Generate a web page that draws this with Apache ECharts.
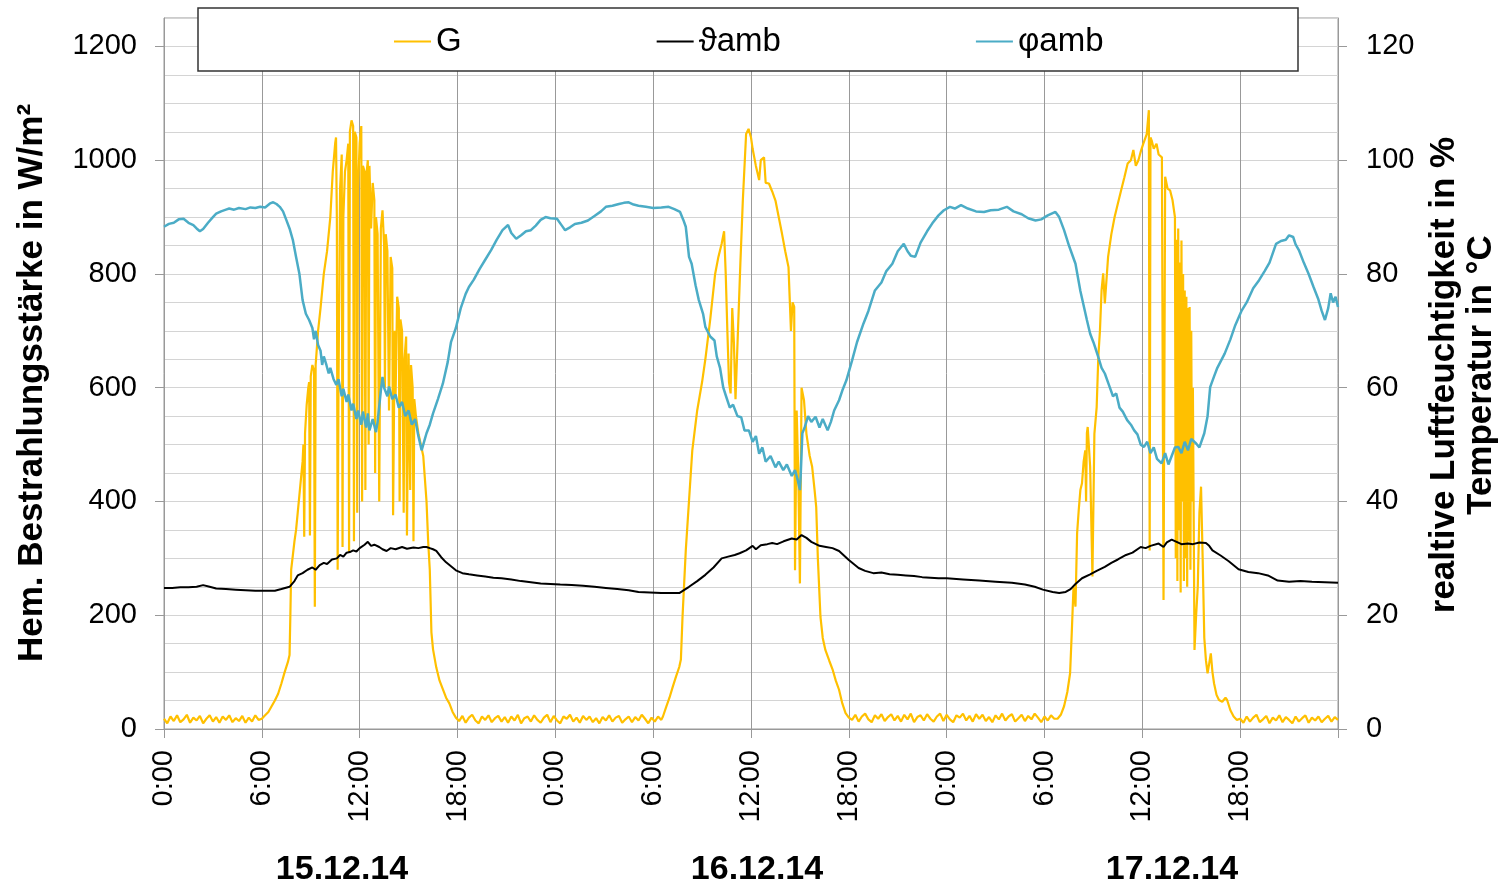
<!DOCTYPE html>
<html>
<head>
<meta charset="utf-8">
<script src="https://cdn.jsdelivr.net/npm/echarts@6/dist/echarts.min.js"></script>
<style>
html,body{margin:0;padding:0;background:#fff;}
#chart{width:1506px;height:890px;}
</style>
</head>
<body>
<div id="chart"></div>
<script>
// ---- x axis (hours since 15.12.14 0:00) ----
const xTicks = [0, 6, 12, 18, 24, 30, 36, 42, 48, 54, 60, 66, 72];
const dateLabels = ['15.12.14', '16.12.14', '17.12.14'];
const leftTicks = [0, 200, 400, 600, 800, 1000, 1200];
const rightTicks = [0, 20, 40, 60, 80, 100, 120];
const seriesNames = ['G', 'ϑamb', 'φamb'];

// ---- G (W/m²): night noise at 0.2 h steps ----
const gNight1 = [18,10,22,14,24,12,17,25,11,20,15,23,10,18,24,13,21,11,22,16,24,12,19,14,23,11,20,13,24,16];
const gNight2 = [14,23,11,20,25,15,10,22,16,24,12,19,23,13,21,11,22,15,25,10,19,22,13,24,16,11,20,25,12,23,15,10,22,18,25,13,20,11,23,16,22,12,19,10,21,15,24,13,20,23,11,17,22,12,21,15,25,18,10,20,13,22,16];
const gNight3 = [16,25,13,22,27,17,12,24,18,26,14,21,26,15,23,13,25,17,27,12,21,24,15,26,18,13,22,27,14,25,17,12,24,20,27,15,23,13,26,18,25,14,21,12,24,17,27,15,22,26,13,19,25,14,23,17,27,20,12,22,15,24,18];
const gNight4 = [18,11,22,13,20,25,12,17,23,10,20,15,24,12,21,16,10,22,13,19,24,11,20,15,22,12,18,23,13,21,16];

// ---- G (W/m²): daytime [hour, value] ----
const gDay1 = [[6.0,18],[6.2,24],[6.4,30],[6.6,40],[6.8,50],[7.0,62],[7.2,80],[7.4,100],[7.6,118],[7.7,130],[7.75,200],[7.8,280],[7.9,305],[8.0,330],[8.1,350],[8.2,380],[8.3,410],[8.4,440],[8.5,470],[8.55,500],[8.6,338],[8.65,520],[8.75,570],[8.85,600],[8.9,610],[8.95,340],[9.0,620],[9.1,640],[9.2,630],[9.25,215],[9.3,640],[9.45,700],[9.6,740],[9.8,800],[10.0,840],[10.2,900],[10.35,980],[10.5,1030],[10.55,1040],[10.6,900],[10.65,280],[10.7,600],[10.8,950],[10.9,1010],[10.95,320],[11.0,900],[11.1,980],[11.2,1000],[11.3,1029],[11.35,310],[11.4,1050],[11.5,1070],[11.6,1060],[11.65,330],[11.7,1050],[11.8,1040],[11.85,380],[11.9,950],[12.0,1030],[12.1,1060],[12.15,400],[12.2,990],[12.3,980],[12.35,420],[12.4,970],[12.5,1000],[12.55,500],[12.6,990],[12.7,880],[12.8,960],[12.9,930],[12.95,450],[13.0,900],[13.1,870],[13.2,400],[13.3,880],[13.4,912],[13.5,850],[13.55,600],[13.6,870],[13.7,840],[13.8,560],[13.9,830],[14.0,810],[14.05,376],[14.15,700],[14.2,580],[14.3,760],[14.4,740],[14.45,400],[14.5,720],[14.6,700],[14.7,380],[14.75,650],[14.85,690],[14.9,340],[15.0,660],[15.1,420],[15.15,640],[15.25,600],[15.3,330],[15.35,580],[15.45,550],[15.6,520],[15.75,500],[15.9,480],[16.0,440],[16.1,400],[16.2,330],[16.3,280],[16.4,170],[16.5,140],[16.7,108],[16.9,85],[17.1,70],[17.3,55],[17.5,45],[17.7,30],[17.9,20]];
const gDay2 = [[30.6,22],[30.8,39],[31.0,55],[31.2,74],[31.4,92],[31.6,109],[31.7,122],[31.8,197],[32.0,314],[32.2,402],[32.4,490],[32.7,560],[33.0,610],[33.2,650],[33.5,720],[33.8,800],[34.0,830],[34.2,853],[34.35,875],[34.45,800],[34.55,700],[34.65,610],[34.75,590],[34.85,740],[34.95,680],[35.05,580],[35.2,700],[35.35,820],[35.5,930],[35.7,1046],[35.85,1055],[36.0,1040],[36.1,1020],[36.3,990],[36.5,965],[36.6,1000],[36.8,1005],[36.9,960],[37.1,959],[37.3,945],[37.5,929],[37.7,900],[37.9,871],[38.1,840],[38.3,812],[38.45,700],[38.55,750],[38.65,742],[38.7,279],[38.8,560],[38.9,450],[39.0,256],[39.1,600],[39.25,578],[39.4,519],[39.6,480],[39.75,461],[39.9,420],[40.0,390],[40.1,300],[40.26,197],[40.4,160],[40.56,139],[40.8,120],[41.0,105],[41.2,85],[41.4,69],[41.6,45],[41.8,28],[42.0,20]];
const gDay3 = [[54.8,18],[55.0,25],[55.2,40],[55.4,65],[55.57,98],[55.67,168],[55.78,250],[55.9,215],[56.0,344],[56.1,385],[56.2,420],[56.3,432],[56.4,470],[56.5,490],[56.55,400],[56.6,520],[56.65,531],[56.8,461],[56.94,268],[57.06,519],[57.2,566],[57.3,654],[57.4,700],[57.5,771],[57.6,801],[57.7,748],[57.9,830],[58.1,870],[58.3,900],[58.5,924],[58.7,947],[58.9,970],[59.1,994],[59.3,1000],[59.45,1018],[59.6,990],[59.76,1000],[59.9,1015],[60.06,1029],[60.27,1046],[60.4,1088],[60.45,314],[60.5,1040],[60.57,1035],[60.7,1020],[60.87,1029],[61.0,1010],[61.2,1005],[61.3,227],[61.35,600],[61.4,971],[61.55,950],[61.7,947],[61.85,930],[62.0,900],[62.05,300],[62.1,860],[62.15,260],[62.2,880],[62.25,350],[62.3,820],[62.35,240],[62.4,859],[62.45,400],[62.5,800],[62.55,260],[62.6,771],[62.65,300],[62.7,760],[62.75,250],[62.8,740],[62.85,330],[62.9,742],[62.95,280],[63.0,700],[63.05,400],[63.1,600],[63.2,139],[63.3,200],[63.4,250],[63.5,380],[63.6,426],[63.7,300],[63.8,160],[63.9,121],[64.0,98],[64.1,115],[64.2,133],[64.3,100],[64.4,80],[64.55,60],[64.7,51],[64.9,48],[65.1,55],[65.2,51],[65.4,33],[65.6,22],[65.8,16]];

// ---- ϑamb (°C) [hour, value] ----
const tempData = [[0.0,24.8],[0.5,24.8],[1.0,24.9],[1.5,24.9],[2.0,25.0],[2.4,25.3],[2.8,25.0],[3.2,24.7],[3.8,24.6],[4.4,24.5],[5.0,24.4],[5.6,24.3],[6.2,24.3],[6.8,24.3],[7.2,24.6],[7.7,25.0],[8.0,26.0],[8.2,27.0],[8.5,27.4],[8.8,28.0],[9.1,28.4],[9.3,28.0],[9.55,28.8],[9.8,29.2],[10.0,29.0],[10.3,29.8],[10.6,30.0],[10.8,30.6],[11.0,30.3],[11.2,31.0],[11.4,31.1],[11.6,31.4],[11.8,31.2],[12.0,31.8],[12.3,32.4],[12.5,32.9],[12.7,32.2],[12.9,32.4],[13.2,32.0],[13.4,31.6],[13.65,31.3],[13.9,31.8],[14.2,31.6],[14.6,32.0],[14.9,31.7],[15.3,31.9],[15.6,31.8],[15.9,32.0],[16.1,32.0],[16.3,31.8],[16.5,31.6],[16.7,31.3],[17.0,30.2],[17.3,29.3],[17.6,28.6],[17.9,27.9],[18.3,27.4],[18.7,27.2],[19.2,27.0],[19.7,26.8],[20.2,26.6],[20.7,26.5],[21.3,26.3],[21.9,26.0],[22.5,25.8],[23.1,25.6],[23.7,25.5],[24.3,25.4],[25.0,25.3],[25.7,25.2],[26.4,25.0],[27.1,24.8],[27.8,24.6],[28.5,24.4],[29.1,24.1],[29.8,24.0],[30.5,23.9],[31.0,23.9],[31.6,23.9],[32.2,25.0],[32.7,26.0],[33.2,27.1],[33.7,28.4],[34.2,30.0],[34.6,30.3],[35.0,30.6],[35.3,30.9],[35.7,31.4],[36.1,32.2],[36.3,31.6],[36.6,32.3],[37.0,32.5],[37.3,32.7],[37.6,32.5],[38.0,33.0],[38.5,33.5],[38.8,33.3],[39.1,34.1],[39.4,33.6],[39.7,32.9],[40.2,32.2],[40.6,32.0],[41.0,31.8],[41.4,31.3],[41.7,30.5],[42.0,29.7],[42.3,29.0],[42.6,28.3],[43.0,27.8],[43.5,27.4],[44.0,27.5],[44.5,27.2],[45.0,27.1],[45.5,27.0],[46.0,26.9],[46.5,26.7],[47.0,26.6],[47.5,26.5],[48.0,26.5],[49.0,26.3],[50.0,26.1],[51.0,25.9],[52.0,25.7],[52.8,25.4],[53.4,25.0],[53.9,24.5],[54.5,24.1],[54.9,23.9],[55.3,24.1],[55.6,24.6],[55.9,25.5],[56.3,26.5],[56.8,27.2],[57.2,27.8],[57.7,28.5],[58.1,29.2],[58.5,29.8],[59.0,30.6],[59.4,31.0],[59.9,32.0],[60.2,31.8],[60.5,32.2],[61.0,32.6],[61.3,32.0],[61.5,32.8],[61.8,33.3],[62.1,32.9],[62.4,32.5],[62.8,32.6],[63.1,32.5],[63.5,32.8],[63.9,32.7],[64.1,32.2],[64.3,31.4],[64.8,30.5],[65.3,29.5],[65.9,28.1],[66.5,27.6],[67.1,27.4],[67.7,27.0],[68.3,26.1],[69.0,25.9],[69.7,26.0],[70.4,25.9],[71.2,25.8],[72.0,25.7]];

// ---- φamb (%) [hour, value] ----
const humData = [[0.0,88.3],[0.3,88.8],[0.6,89.0],[0.9,89.6],[1.2,89.7],[1.5,89.0],[1.8,88.6],[2.0,88.0],[2.2,87.5],[2.4,87.9],[2.7,89.0],[3.0,90.0],[3.2,90.6],[3.5,91.0],[3.8,91.3],[4.0,91.5],[4.3,91.3],[4.6,91.6],[5.0,91.4],[5.3,91.7],[5.6,91.6],[5.9,91.8],[6.2,91.7],[6.5,92.4],[6.7,92.6],[6.9,92.3],[7.1,91.8],[7.3,91.0],[7.5,89.5],[7.7,88.0],[7.9,86.0],[8.1,83.0],[8.3,80.1],[8.5,75.4],[8.7,73.0],[8.9,71.9],[9.1,70.5],[9.2,68.5],[9.3,70.0],[9.45,67.5],[9.6,66.5],[9.7,64.0],[9.8,65.5],[9.96,64.0],[10.1,62.5],[10.2,63.5],[10.4,61.5],[10.57,60.5],[10.7,61.5],[10.9,58.5],[11.0,59.8],[11.2,57.5],[11.3,58.8],[11.5,56.0],[11.6,57.2],[11.8,54.5],[11.9,56.0],[12.1,53.5],[12.2,55.8],[12.4,53.0],[12.5,55.5],[12.6,52.5],[12.8,54.5],[13.0,52.2],[13.1,54.0],[13.3,59.5],[13.4,61.9],[13.5,60.0],[13.7,58.5],[13.8,60.2],[14.0,58.0],[14.2,58.8],[14.4,56.5],[14.6,57.5],[14.8,55.0],[15.0,56.0],[15.2,53.5],[15.4,54.5],[15.6,51.5],[15.8,49.0],[16.0,51.0],[16.1,52.0],[16.3,53.5],[16.5,55.5],[16.8,58.0],[17.1,60.7],[17.4,64.5],[17.6,68.0],[17.9,70.5],[18.2,74.0],[18.5,76.5],[18.7,77.7],[19.0,79.0],[19.36,80.9],[19.7,82.5],[20.06,84.2],[20.4,86.0],[20.76,87.7],[21.1,88.6],[21.3,87.2],[21.6,86.2],[21.9,86.8],[22.2,87.5],[22.5,87.7],[22.8,88.5],[23.1,89.5],[23.4,90.0],[23.7,89.8],[24.1,89.7],[24.4,88.5],[24.6,87.7],[24.9,88.2],[25.2,88.8],[25.6,89.0],[26.0,89.4],[26.4,90.2],[26.8,91.0],[27.1,91.8],[27.5,92.0],[27.9,92.3],[28.2,92.5],[28.5,92.6],[28.8,92.2],[29.1,92.0],[29.55,91.8],[30.0,91.6],[30.5,91.7],[30.95,91.8],[31.3,91.4],[31.65,90.9],[31.85,89.5],[32.0,88.3],[32.2,83.0],[32.36,81.8],[32.6,78.0],[32.8,75.4],[33.06,73.0],[33.2,70.7],[33.5,69.0],[33.76,68.3],[33.9,65.5],[34.1,63.5],[34.3,60.0],[34.47,58.5],[34.7,56.5],[34.9,57.0],[35.17,55.0],[35.4,54.8],[35.6,52.5],[35.87,52.5],[36.1,50.5],[36.3,51.5],[36.5,48.4],[36.7,49.5],[36.9,47.0],[37.2,48.0],[37.5,46.0],[37.7,47.0],[37.98,45.5],[38.2,46.5],[38.5,44.5],[38.7,45.5],[38.87,43.7],[39.0,42.0],[39.04,44.0],[39.15,52.0],[39.3,53.1],[39.5,55.0],[39.7,54.0],[39.96,54.9],[40.2,53.0],[40.4,54.5],[40.7,52.5],[40.9,54.0],[41.1,56.0],[41.4,57.8],[41.6,59.5],[41.85,61.3],[42.2,64.8],[42.5,68.0],[42.9,71.3],[43.2,73.5],[43.6,77.1],[44.0,78.5],[44.3,80.5],[44.67,81.8],[45.0,84.0],[45.37,85.3],[45.6,84.0],[45.8,83.2],[46.07,83.0],[46.4,85.5],[46.8,87.5],[47.12,88.9],[47.5,90.3],[47.83,91.2],[48.2,91.8],[48.5,91.5],[48.88,92.1],[49.3,91.5],[49.8,91.0],[50.29,90.9],[50.7,91.2],[51.2,91.3],[51.69,91.8],[52.1,91.0],[52.6,90.5],[53.0,89.8],[53.45,89.4],[53.8,89.6],[54.2,90.3],[54.67,90.9],[54.9,90.0],[55.2,87.7],[55.5,85.0],[55.9,81.8],[56.2,77.0],[56.6,71.9],[56.8,69.5],[57.0,68.0],[57.3,65.4],[57.5,63.5],[57.7,62.5],[58.0,60.1],[58.2,58.5],[58.4,59.0],[58.6,56.5],[58.8,55.8],[59.07,54.3],[59.3,53.5],[59.5,52.5],[59.7,51.8],[59.9,50.0],[60.1,49.6],[60.3,50.5],[60.5,48.5],[60.7,49.5],[60.9,47.5],[61.18,46.7],[61.4,48.5],[61.6,46.5],[61.8,48.0],[62.0,49.5],[62.2,49.6],[62.4,48.5],[62.6,50.5],[62.8,49.0],[63.0,51.0],[63.3,50.2],[63.5,49.5],[63.8,52.0],[64.0,55.0],[64.16,60.1],[64.4,62.0],[64.6,63.5],[65.05,66.0],[65.4,68.5],[65.7,71.0],[66.1,73.6],[66.4,75.0],[66.8,77.5],[67.16,78.9],[67.5,80.5],[67.8,82.0],[68.2,85.3],[68.5,85.8],[68.8,86.0],[69.0,86.8],[69.25,86.5],[69.4,85.2],[69.6,84.2],[69.9,82.0],[70.2,80.0],[70.5,77.7],[70.8,75.5],[71.0,73.5],[71.2,71.9],[71.4,74.0],[71.55,76.6],[71.7,75.0],[71.85,76.0],[72.0,74.2]];

// build G series from night runs (start hour, 0.2 h step) and day pairs
function run(start, vals) {
  return vals.map((v, i) => [Math.round((start + i * 0.2) * 100) / 100, v]);
}
const gData = [].concat(
  run(0.0, gNight1), gDay1,
  run(18.1, gNight2), gDay2,
  run(42.2, gNight3), gDay3,
  run(66.0, gNight4)
);

const FONT = '"Liberation Sans", Arial, sans-serif';
const chart = echarts.init(document.getElementById('chart'), null, {renderer: 'canvas'});

chart.setOption({
  animation: false,
  backgroundColor: '#ffffff',
  textStyle: {fontFamily: FONT},
  grid: {left: 164, right: 168, top: 18, bottom: 161, show: true, borderColor: '#999', borderWidth: 1, backgroundColor: 'transparent'},
  legend: {
    data: seriesNames,
    left: 394, top: 25, padding: 0, z: 60,
    itemGap: 195, itemWidth: 37, itemHeight: 2, icon: 'rect',
    textStyle: {fontSize: 33, color: '#000', fontFamily: FONT, padding: [0, 0, 0, 0]}
  },
  xAxis: {
    type: 'value', min: 0, max: 72, interval: 6,
    axisLine: {show: true, lineStyle: {color: '#999', width: 1}},
    axisTick: {show: true, length: 9, lineStyle: {color: '#999'}},
    splitLine: {show: true, lineStyle: {color: '#999', width: 1}},
    axisLabel: {
      rotate: 90, fontSize: 29, color: '#000', margin: 21, fontFamily: FONT,
      customValues: xTicks.slice(0, 12),
      formatter: v => (v % 24) + ':00'
    }
  },
  yAxis: [
    {
      type: 'value', min: 0, max: 1250, interval: 200, position: 'left',
      axisLine: {show: true, lineStyle: {color: '#999'}},
      axisTick: {show: true, length: 9, customValues: leftTicks, lineStyle: {color: '#999'}},
      axisLabel: {customValues: leftTicks, fontSize: 29, color: '#000', margin: 27, fontFamily: FONT,
                  formatter: v => String(v)},
      splitLine: {show: false}
    },
    {
      type: 'value', min: 0, max: 125, interval: 20, position: 'right',
      axisLine: {show: true, lineStyle: {color: '#999'}},
      axisTick: {show: true, length: 9, customValues: rightTicks, lineStyle: {color: '#999'}},
      axisLabel: {customValues: rightTicks, fontSize: 29, color: '#000', margin: 28, fontFamily: FONT,
                  formatter: v => String(v)},
      splitLine: {show: true, lineStyle: {color: '#9a9a9a', width: 1}}
    },
    {
      // minor horizontal grid every 50 W/m²
      type: 'value', min: 0, max: 1250, interval: 50, position: 'left', z: 0,
      axisLine: {show: false}, axisTick: {show: false}, axisLabel: {show: false},
      splitLine: {show: true, lineStyle: {color: '#d4d4d4', width: 1}}
    }
  ],
  graphic: [
    {type: 'rect', z: 50, shape: {x: 198, y: 8, width: 1100, height: 63},
     style: {fill: '#fff', stroke: '#333', lineWidth: 1.5}},
    {type: 'text', z: 60, x: 32, y: 383, rotation: Math.PI / 2,
     style: {text: 'Hem. Bestrahlungsstärke in W/m²', font: 'bold 35px ' + FONT, fill: '#000', align: 'center', verticalAlign: 'middle'}},
    {type: 'text', z: 60, x: 1463, y: 375, rotation: Math.PI / 2,
     style: {text: 'realtive Luftfeuchtigkeit in %\nTemperatur in °C', font: 'bold 35px ' + FONT, lineHeight: 37, fill: '#000', align: 'center', verticalAlign: 'middle'}},
    {type: 'text', z: 60, x: 342, y: 870, style: {text: dateLabels[0], font: 'bold 34px ' + FONT, fill: '#000', align: 'center', verticalAlign: 'middle'}},
    {type: 'text', z: 60, x: 757, y: 870, style: {text: dateLabels[1], font: 'bold 34px ' + FONT, fill: '#000', align: 'center', verticalAlign: 'middle'}},
    {type: 'text', z: 60, x: 1172, y: 870, style: {text: dateLabels[2], font: 'bold 34px ' + FONT, fill: '#000', align: 'center', verticalAlign: 'middle'}}
  ],
  series: [
    {name: seriesNames[0], type: 'line', yAxisIndex: 0, data: gData, symbol: 'none', showSymbol: false,
     lineStyle: {color: '#FFC000', width: 2.2}, itemStyle: {color: '#FFC000'}},
    {name: seriesNames[1], type: 'line', yAxisIndex: 1, data: tempData, symbol: 'none', showSymbol: false,
     lineStyle: {color: '#000000', width: 2}, itemStyle: {color: '#000000'}},
    {name: seriesNames[2], type: 'line', yAxisIndex: 1, data: humData, symbol: 'none', showSymbol: false,
     lineStyle: {color: '#4BACC6', width: 2.5}, itemStyle: {color: '#4BACC6'}}
  ]
});
</script>
</body>
</html>
